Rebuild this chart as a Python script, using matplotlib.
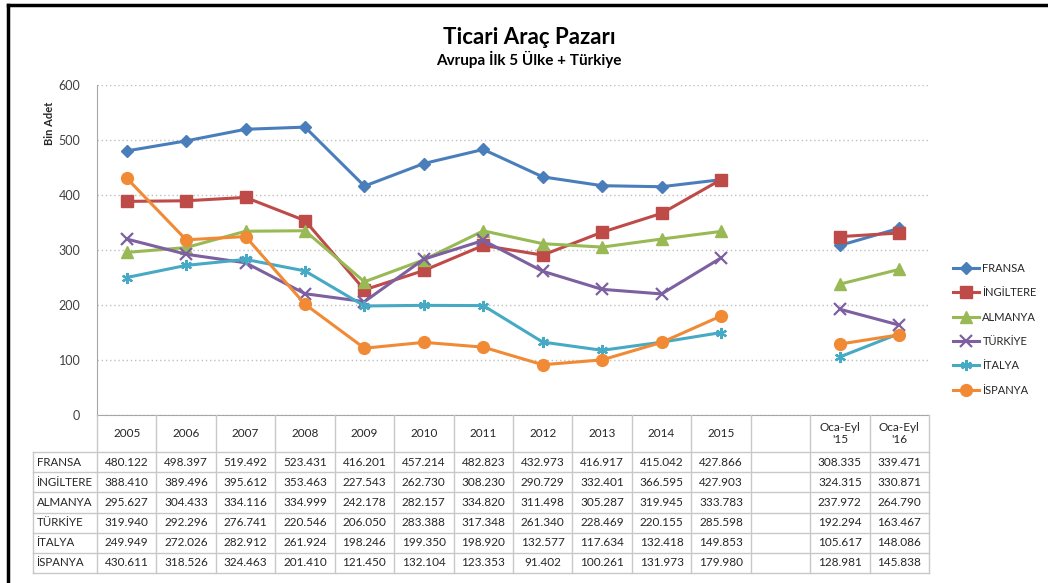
import numpy as np
import matplotlib
matplotlib.use("Agg")
import matplotlib.pyplot as plt
from matplotlib.lines import Line2D

plt.rcParams['font.family'] = ['Lato', 'DejaVu Sans']

# categories (blank slot between 2015 and the Jan-Sep columns)
categories = ["2005", "2006", "2007", "2008", "2009", "2010", "2011", "2012",
              "2013", "2014", "2015", "", "Oca-Eyl\n'15", "Oca-Eyl\n'16"]

countries = ["FRANSA", "İNGİLTERE", "ALMANYA", "TÜRKİYE", "İTALYA", "İSPANYA"]

fransa = [480.122, 498.397, 519.492, 523.431, 416.201, 457.214, 482.823, 432.973,
          416.917, 415.042, 427.866, None, 308.335, 339.471]
ingiltere = [388.410, 389.496, 395.612, 353.463, 227.543, 262.730, 308.230, 290.729,
             332.401, 366.595, 427.903, None, 324.315, 330.871]
almanya = [295.627, 304.433, 334.116, 334.999, 242.178, 282.157, 334.820, 311.498,
           305.287, 319.945, 333.783, None, 237.972, 264.790]
turkiye = [319.940, 292.296, 276.741, 220.546, 206.050, 283.388, 317.348, 261.340,
           228.469, 220.155, 285.598, None, 192.294, 163.467]
italya = [249.949, 272.026, 282.912, 261.924, 198.246, 199.350, 198.920, 132.577,
          117.634, 132.418, 149.853, None, 105.617, 148.086]
ispanya = [430.611, 318.526, 324.463, 201.410, 121.450, 132.104, 123.353, 91.402,
           100.261, 131.973, 179.980, None, 128.981, 145.838]

series = [fransa, ingiltere, almanya, turkiye, italya, ispanya]
colors = ["#4A7EBB", "#BE4B48", "#98B954", "#7D60A0", "#46AAC5", "#F08A35"]
markers = ["D", "s", "^", "x", (6, 2, 0), "o"]
msizes = [6.5, 8, 8, 8, 8, 8.5]

W, H = 1048, 583
fig = plt.figure(figsize=(W / 100, H / 100), dpi=100)

# plot area
ax = fig.add_axes([97 / W, 1 - 415 / H, (929 - 97) / W, (415 - 85) / H])
x = np.arange(len(categories))
for vals, c, m, ms, name in zip(series, colors, markers, msizes, countries):
    y = np.array([np.nan if v is None else v for v in vals], dtype=float)
    thin = m == "x" or isinstance(m, tuple)
    ax.plot(x, y, color=c, lw=2.2, marker=m, ms=ms, mew=1.6 if thin else 1,
            mec=c, mfc=c, label=name, zorder=3)

ax.set_xlim(-0.5, len(categories) - 0.5)
ax.set_ylim(0, 600)
ax.set_yticks(range(0, 700, 100))
ax.set_xticks([])
ax.yaxis.grid(True, linestyle=(0, (1, 2)), color="#BFBFBF", lw=1)
ax.set_axisbelow(True)
for s in ("top", "right"):
    ax.spines[s].set_visible(False)
for s in ("left", "bottom"):
    ax.spines[s].set_color("#A6A6A6")
ax.tick_params(axis="y", length=0, labelsize=9, labelcolor="#404040", pad=12)
ax.set_ylabel("Bin Adet", fontsize=8, fontweight="bold", color="#262626")
ax.yaxis.set_label_coords(-0.05, 0.885)

# data table under the axis
label_w = (97 - 33) / ((929 - 97) / len(categories))
tax = fig.add_axes([33 / W, 1 - 573 / H, (929 - 33) / W, (573 - 415) / H])
x_left = -0.5 - label_w
tax.set_xlim(x_left, len(categories) - 0.5)
tax.set_ylim(158, 0)
tax.axis("off")

grid_c = "#C8C8C8"
head_h = 37
row_h = (158 - head_h) / len(countries)
for i in range(len(categories) + 1):
    tax.plot([i - 0.5, i - 0.5], [0, 158], color=grid_c, lw=1, clip_on=False)
tax.plot([x_left, x_left], [head_h, 158], color=grid_c, lw=1, clip_on=False)
for k in range(len(countries) + 1):
    tax.plot([x_left, len(categories) - 0.5], [head_h + k * row_h] * 2, color=grid_c, lw=1, clip_on=False)

for i, cat in enumerate(categories):
    tax.text(i, head_h / 2, cat, ha="center", va="center", fontsize=8.5,
             color="#262626", linespacing=1.1)

for r, (name, vals) in enumerate(zip(countries, series)):
    yc = head_h + (r + 0.5) * row_h
    tax.text(x_left + 0.06, yc, name, ha="left", va="center", fontsize=8.3, color="#262626")
    for i, v in enumerate(vals):
        if v is not None:
            tax.text(i, yc, f"{v:.3f}", ha="center", va="center", fontsize=8.5, color="#262626")

# legend
fig.legend(*ax.get_legend_handles_labels(), loc="upper left",
           bbox_to_anchor=(943 / W, 1 - 253 / H), frameon=False, fontsize=8,
           labelspacing=1.2, handlelength=2.3, handletextpad=0.35,
           labelcolor="#262626")

# titles
fig.text(529 / W, 1 - 38 / H, "Ticari Araç Pazarı", ha="center", va="center",
         fontsize=16, fontweight="bold", color="#000000")
fig.text(529 / W, 1 - 59 / H, "Avrupa İlk 5 Ülke + Türkiye", ha="center", va="center",
         fontsize=11, fontweight="bold", color="#000000")

# frame of the picture
fig.add_artist(Line2D([8 / W, 8 / W], [0, 1 - 5 / H], color="black", lw=2.5))
fig.add_artist(Line2D([8 / W, 1], [1 - 5 / H, 1 - 5 / H], color="black", lw=2.5))

fig.savefig("out.png", dpi=100)
